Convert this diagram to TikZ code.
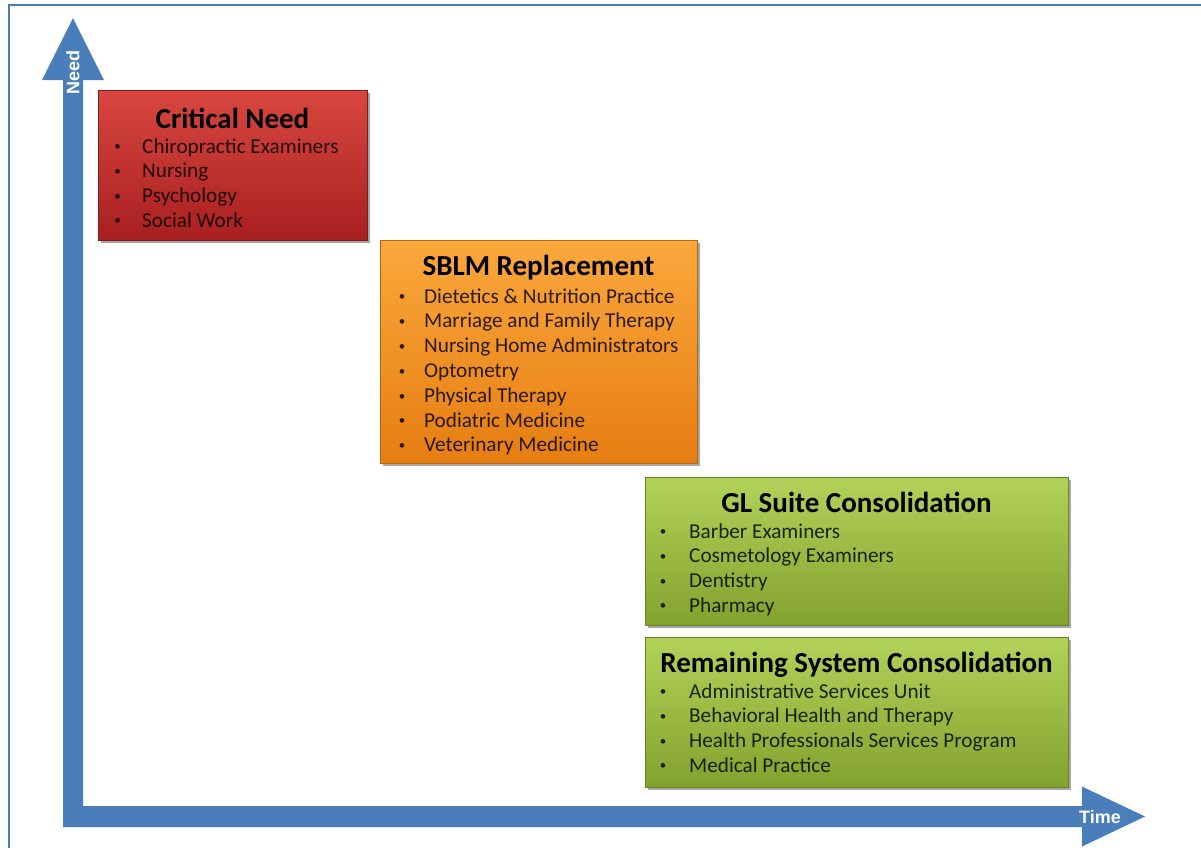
\documentclass[tikz,border=0pt]{standalone}
\usepackage{fontspec}
\setmainfont{Carlito}
\newfontfamily\axisfont{Liberation Sans}
\usetikzlibrary{shadows}

\definecolor{axisblue}{HTML}{4A7EBB}
\definecolor{redtop}{HTML}{D8473F}
\definecolor{redbot}{HTML}{A81F20}
\definecolor{orangetop}{HTML}{FBA83C}
\definecolor{orangebot}{HTML}{E57D12}
\definecolor{greentop}{HTML}{B2D25A}
\definecolor{greenbot}{HTML}{82A22E}

\tikzset{
  panel/.style={rectangle, anchor=north west, inner sep=0pt, line width=0.6pt,
    drop shadow={shadow xshift=2.5pt, shadow yshift=-3pt, opacity=0.35, fill=black}},
  redpanel/.style={panel, top color=redtop, bottom color=redbot, draw=redbot!80!black},
  orangepanel/.style={panel, top color=orangetop, bottom color=orangebot, draw=orangebot!80!black},
  greenpanel/.style={panel, top color=greentop, bottom color=greenbot, draw=greenbot!80!black},
  ptitle/.style={anchor=base, inner sep=0pt, text=black,
    font=\bfseries\fontsize{29}{29}\selectfont},
  pitem/.style={anchor=base west, inner sep=0pt, text=black, text opacity=0.82,
    font=\fontsize{21.2}{21.2}\selectfont},
  axislabel/.style={inner sep=0pt, text=white, font=\axisfont\bfseries\fontsize{18}{18}\selectfont},
}

% small bullet centred #1/2 pt left of the text start
\newcommand\bulletat[1]{\llap{\makebox[#1pt][c]{\raisebox{2.2pt}{\fontsize{13}{13}\selectfont\textbullet}}}}

\begin{document}
\begin{tikzpicture}[x=1pt,y=-1pt]
  \useasboundingbox (0,0) rectangle (1201,847);
  \fill[white] (0,0) rectangle (1201,847);

  % outer frame
  \draw[axisblue, line width=2.5pt] (9,848) -- (9,5) -- (1202,5);

  % axes: one L-shaped arrow with two heads
  \fill[axisblue] (63,80) -- (42,80) -- (73,18) -- (104,80) -- (83,80)
    -- (83,806) -- (1082,806) -- (1082,786.5) -- (1145,816.5) -- (1082,846.5)
    -- (1082,827) -- (63,827) -- cycle;
  \node[axislabel, rotate=90] (need) at (73,72) {Need};
  \node[axislabel] (time) at (1100,817) {Time};

  % Critical Need
  \node[redpanel, minimum width=269pt, minimum height=150pt] (crit) at (98,90) {};
  \node[ptitle] (crit-title) at (232.5,128) {Critical Need};
  \foreach \txt [count=\k from 0] in {Chiropractic Examiners, Nursing, Psychology, Social Work}
    \node[pitem] (crit-\k) at (142,153+24.7*\k) {\bulletat{49}\txt};

  % SBLM Replacement
  \node[orangepanel, minimum width=317pt, minimum height=223pt] (sblm) at (380,240) {};
  \node[ptitle] (sblm-title) at (538.5,275) {SBLM Replacement};
  \foreach \txt [count=\k from 0] in {Dietetics \& Nutrition Practice, Marriage and Family Therapy,
      Nursing Home Administrators, Optometry, Physical Therapy, Podiatric Medicine, Veterinary Medicine}
    \node[pitem] (sblm-\k) at (424,303+24.8*\k) {\bulletat{44}\txt};

  % GL Suite Consolidation
  \node[greenpanel, minimum width=423pt, minimum height=148pt] (gl) at (645,477) {};
  \node[ptitle] (gl-title) at (856.5,512) {GL Suite Consolidation};
  \foreach \txt [count=\k from 0] in {Barber Examiners, Cosmetology Examiners, Dentistry, Pharmacy}
    \node[pitem] (gl-\k) at (689,538+24.7*\k) {\bulletat{52}\txt};

  % Remaining System Consolidation
  \node[greenpanel, minimum width=423pt, minimum height=150pt] (rest) at (645,637) {};
  \node[ptitle] (rest-title) at (856.5,672) {Remaining System Consolidation};
  \foreach \txt [count=\k from 0] in {Administrative Services Unit, Behavioral Health and Therapy,
      Health Professionals Services Program, Medical Practice}
    \node[pitem] (rest-\k) at (689,698+24.7*\k) {\bulletat{52}\txt};
\end{tikzpicture}
\end{document}
